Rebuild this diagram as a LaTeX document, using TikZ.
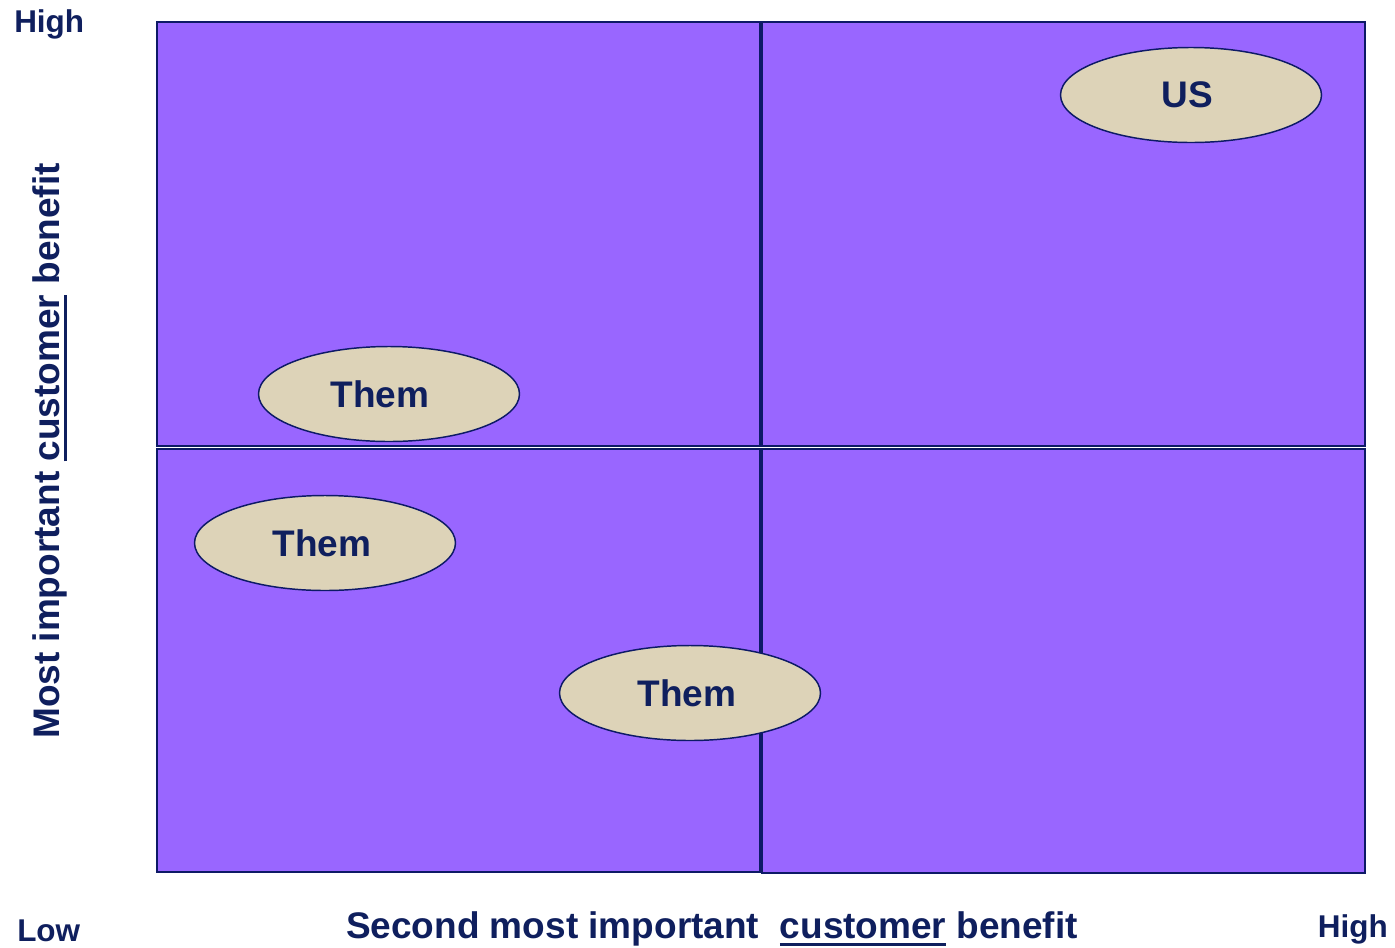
\documentclass[tikz,border=0pt]{standalone}
\usepackage{fontspec}
\setmainfont{Liberation Sans}
\usetikzlibrary{shapes.geometric}
\definecolor{quadfill}{HTML}{9966FF}
\definecolor{navyline}{HTML}{0D1A66}
\definecolor{navytext}{HTML}{0F1F5E}
\definecolor{tanfill}{HTML}{DDD3B8}
\newlength\fatulw
\newcommand\fatul[1]{\settowidth\fatulw{#1}\rlap{\rule[-6pt]{\fatulw}{2.2pt}}#1}
\tikzset{
  quad/.style={draw=navyline, fill=quadfill, line width=1.5pt},
  oval/.style={ellipse, draw=navyline, fill=tanfill, line width=1.1pt, inner sep=0pt,
    minimum width=195.75pt, minimum height=71.25pt, text=navytext,
    font=\fontsize{27.75pt}{30pt}\selectfont\bfseries},
  axislab/.style={inner sep=0pt, text=navytext, font=\fontsize{27.75pt}{30pt}\selectfont\bfseries},
  endlab/.style={inner sep=0pt, text=navytext, font=\fontsize{23.6pt}{26pt}\selectfont\bfseries}
}
\begin{document}
\begin{tikzpicture}[x=0.75pt,y=-0.75pt]
\useasboundingbox[fill=white] (0,0) rectangle (1395,947);
% quadrants
\draw[quad] (157,22) rectangle (760,446);
\draw[quad] (762,22) rectangle (1365,446);
\draw[quad] (157,449) rectangle (760,872);
\draw[quad] (762,449) rectangle (1365,873);
% ellipses
\node[oval] (us) at (1191,95) {US\kern6pt};
\node[oval] (them1) at (389,394) {Them\kern13.5pt};
\node[oval] (them2) at (325,543) {Them\kern4.5pt};
\node[oval] (them3) at (690,693) {Them\kern4.5pt};
% axis labels
\node[endlab, anchor=base west] (hightop) at (14,32) {High};
\node[endlab, anchor=base west] (low) at (17,941) {Low};
\node[endlab, anchor=base east] (highright) at (1388,937) {High};
\node[axislab, anchor=base] (xlab) at (712,938) {Second most important\ \ \fatul{customer} benefit};
\node[axislab, anchor=base, rotate=90] (ylab) at (59,451) {Most important \fatul{customer} benefit};
\end{tikzpicture}
\end{document}
